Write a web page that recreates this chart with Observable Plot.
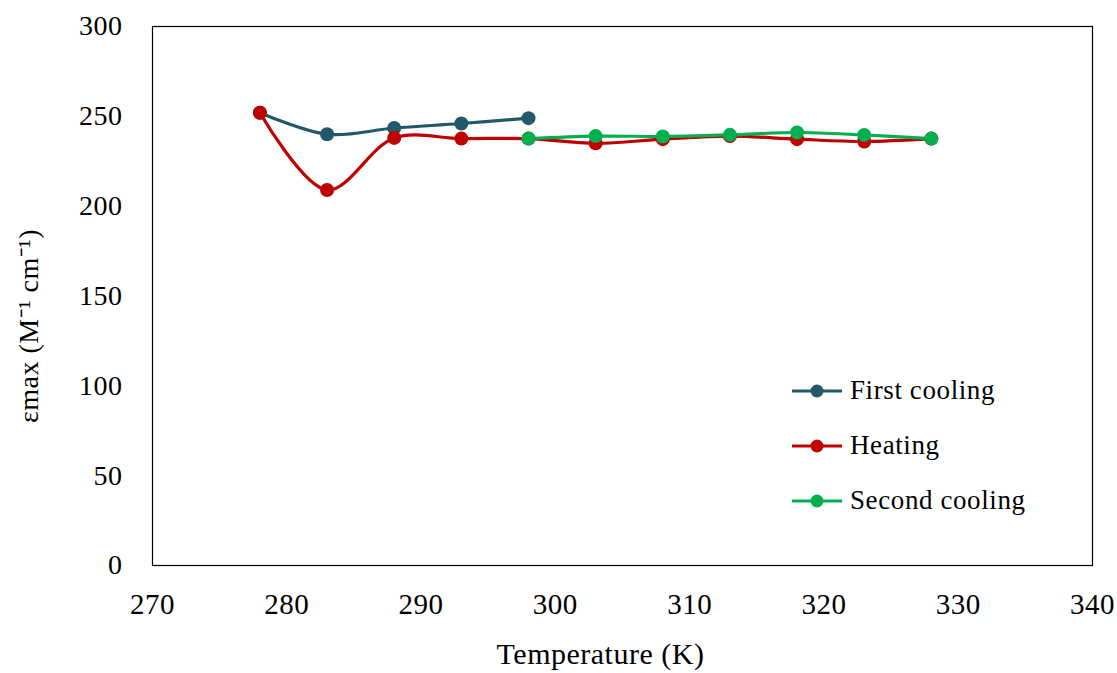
<!DOCTYPE html>
<html>
<head>
<meta charset="utf-8">
<script src="https://cdn.jsdelivr.net/npm/d3@7"></script>
<script src="https://cdn.jsdelivr.net/npm/@observablehq/plot@0.6"></script>
<style>
  body { margin: 0; background: #fff; }
  #wrap { position: relative; width: 1117px; height: 673px; font-family: "Liberation Serif", "Times New Roman", serif; }
  #legend { position: absolute; left: 790px; top: 363px; font-size: 27px; letter-spacing: 0.6px; color: #000; }
  .row { display: flex; align-items: center; height: 55px; }
  .row span { margin-left: 6px; }
</style>
</head>
<body>
<div id="wrap"><div id="legend"></div></div>
<script>
const seriesNames = ["First cooling", "Heating", "Second cooling"];
const seriesColors = ["#215968", "#C00000", "#00B050"];
const firstCoolingT = [278, 283, 288, 293, 298];
const firstCoolingE = [252, 240, 243.5, 246, 249];
const heatingT = [278, 283, 288, 293, 298, 303, 308, 313, 318, 323, 328];
const heatingE = [252, 209, 238, 237.6, 237.6, 235, 237.3, 239, 237.3, 236, 237.6];
const secondCoolingT = [298, 303, 308, 313, 318, 323, 328];
const secondCoolingE = [237.6, 239, 238.8, 239.7, 241, 239.6, 237.6];
const xTicks = [270, 280, 290, 300, 310, 320, 330, 340];
const yTicks = [0, 50, 100, 150, 200, 250, 300];
const xTitle = "Temperature (K)";
const yTitle = "εmax (M⁻¹ cm⁻¹)";

const toRows = (T, E, s) => T.map((t, i) => ({t, e: E[i], s}));
const data = [
  ...toRows(firstCoolingT, firstCoolingE, seriesNames[0]),
  ...toRows(heatingT, heatingE, seriesNames[1]),
  ...toRows(secondCoolingT, secondCoolingE, seriesNames[2])
];

const chart = Plot.plot({
  width: 1117,
  height: 673,
  marginLeft: 152,
  marginRight: 25,
  marginTop: 26,
  marginBottom: 108,
  style: { fontFamily: "'Liberation Serif', 'Times New Roman', serif", fontSize: "28px", color: "#000", background: "#fff", letterSpacing: "0.5px" },
  x: { domain: [270, 340] },
  y: { domain: [0, 300] },
  color: { domain: seriesNames, range: seriesColors },
  marks: [
    Plot.frame({ stroke: "#000", strokeWidth: 1.2 }),
    Plot.axisX({ ticks: xTicks, tickSize: 0, tickPadding: 28, label: null, fontSize: 29 }),
    Plot.axisY({ ticks: yTicks, tickSize: 0, tickPadding: 30, label: null, fontSize: 28 }),
    Plot.text([xTitle], { frameAnchor: "bottom", text: d => d, dy: 89, dx: -22, fontSize: 30, lineAnchor: "middle", textAnchor: "middle", fill: "#000" }),
    Plot.text([yTitle], { frameAnchor: "left", text: d => d, rotate: -90, dx: -123, dy: 30, fontSize: 28, lineAnchor: "middle", textAnchor: "middle", fill: "#000" }),
    ...seriesNames.map(name => Plot.line(data.filter(d => d.s === name), { x: "t", y: "e", stroke: "s", strokeWidth: 3.2, curve: "catmull-rom" })),
    ...seriesNames.map(name => Plot.dot(data.filter(d => d.s === name), { x: "t", y: "e", fill: "s", r: 7 }))
  ]
});
document.getElementById("wrap").prepend(chart);

const legend = document.getElementById("legend");
seriesNames.forEach((name, i) => {
  const row = document.createElement("div");
  row.className = "row";
  row.innerHTML = `<svg width="54" height="16"><line x1="2" x2="52" y1="8" y2="8" stroke="${seriesColors[i]}" stroke-width="3.2"/><circle cx="27" cy="8" r="6.5" fill="${seriesColors[i]}"/></svg><span>${name}</span>`;
  legend.appendChild(row);
});
</script>
</body>
</html>
